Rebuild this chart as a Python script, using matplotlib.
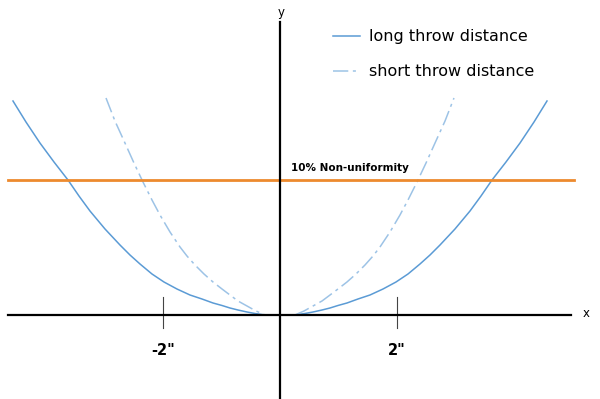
import numpy as np
import matplotlib
matplotlib.use("Agg")
import matplotlib.pyplot as plt

# right half of each curve (inches, % non-uniformity); left half is the mirror
long_x = [0.256, 0.427, 0.564, 0.718, 0.855, 0.991, 1.145, 1.333, 1.538, 1.761, 1.983, 2.188,
          2.393, 2.564, 2.735, 2.991, 3.248, 3.436, 3.624, 3.863, 4.103, 4.342, 4.564]
long_y = [0.0, 0.111, 0.222, 0.370, 0.519, 0.704, 0.889, 1.185, 1.481, 1.926, 2.444, 3.037,
          3.778, 4.444, 5.185, 6.370, 7.704, 8.815, 10.0, 11.333, 12.741, 14.296, 15.852]
short_x = [0.256, 0.410, 0.564, 0.718, 0.855, 0.991, 1.145, 1.299, 1.453, 1.590, 1.709, 1.880,
           2.051, 2.188, 2.342, 2.496, 2.650, 2.821, 2.974]
short_y = [0.0, 0.296, 0.667, 1.037, 1.481, 1.926, 2.444, 3.037, 3.704, 4.370, 5.037, 6.148,
           7.407, 8.519, 9.852, 11.259, 12.741, 14.370, 16.074]
threshold = 10.0
tick_pos = [-2, 2]
tick_labels = ['-2"', '2"']

def mirror(x, y):
  x = np.asarray(x)
  y = np.asarray(y)
  return np.concatenate([-x[::-1], [np.nan], x]), np.concatenate([y[::-1], [np.nan], y])

fig = plt.figure(figsize = (6, 3.99), dpi = 100)
ax = fig.add_axes([0, 0, 1, 1])
ax.set_xlim(-4.786, 5.470)
ax.set_ylim(-6.222, 23.333)
ax.axis("off")

lx, ly = mirror(long_x, long_y)
sx, sy = mirror(short_x, short_y)
ax.plot(lx, ly, color = "#5b9bd5", lw = 1.1, label = "long throw distance")
ax.plot(sx, sy, color = "#9dc3e6", lw = 1.1, ls = (0, (10, 3, 2, 3)), label = "short throw distance")

# axes and threshold
ax.plot([-4.65, 4.97], [0, 0], color = "black", lw = 1.6, zorder = 3)
ax.plot([0, 0], [-6.3, 21.7], color = "black", lw = 1.6, zorder = 3)
ax.plot([-4.65, 5.03], [threshold, threshold], color = "#ed8a2e", lw = 2.0, zorder = 2)

for p, t in zip(tick_pos, tick_labels):
  ax.plot([p, p], [-0.96, 1.33], color = "#444444", lw = 0.8)
  ax.text(p, -2.6, t, ha = "center", va = "center", fontsize = 10.5, fontweight = "bold")

ax.text(0.19, 10.55, "10% Non-uniformity", fontsize = 7.5, fontweight = "bold", va = "bottom")
ax.text(5.24, 0.1, "x", fontsize = 8.5, ha = "center", va = "center")
ax.text(0.02, 22.4, "y", fontsize = 8.5, ha = "center", va = "center")

ax.legend(loc = "upper left", bbox_to_anchor = (0.555, 0.927), frameon = False,
          fontsize = 11.5, handlelength = 1.7, handletextpad = 0.55,
          labelspacing = 1.25, borderpad = 0, borderaxespad = 0)

fig.savefig("out.png", dpi = 100)
